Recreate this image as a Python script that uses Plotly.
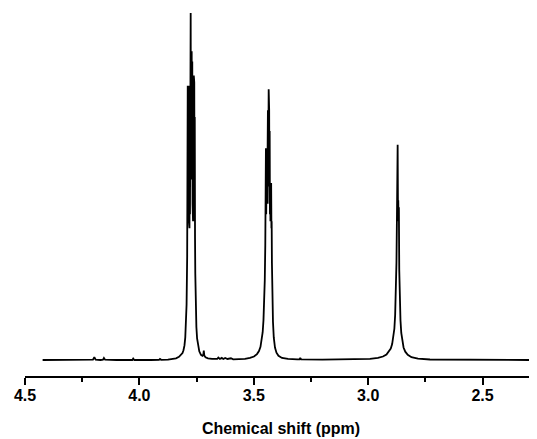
import plotly.graph_objects as go

# Chemical shift (ppm) and intensity (a.u., tallest line = 100)
ppm = [
    4.423, 4.300, 4.215, 4.203, 4.197, 4.191, 4.170, 4.159, 4.155, 4.150,
    4.100, 4.031, 4.027, 4.022, 3.950, 3.914, 3.910, 3.905, 3.875,
    # peak 1 (multiplet near 3.78)
    3.8575, 3.8400, 3.8269, 3.8182, 3.8116, 3.8073, 3.8029, 3.7994, 3.7963,
    3.7937, 3.7911,
    3.7898, 3.7887, 3.7876, 3.7865, 3.7854, 3.7843, 3.7832, 3.7821, 3.7810,
    3.7799, 3.7788, 3.7778, 3.7767, 3.7758, 3.7747, 3.7736, 3.7725, 3.7714,
    3.7703, 3.7688, 3.7677, 3.7666, 3.7655, 3.7644, 3.7633, 3.7622, 3.7611,
    3.7601, 3.7590, 3.7579, 3.7568,
    3.7557, 3.7535, 3.7509, 3.7478, 3.7439, 3.7382, 3.7308, 3.7242,
    3.7207, 3.7185, 3.7163, 3.7111, 3.7002, 3.6827,
    3.660, 3.655, 3.648, 3.640, 3.633, 3.625, 3.615, 3.600, 3.590, 3.560,
    # peak 2 (multiplet near 3.44)
    3.5385, 3.5166, 3.4991, 3.4860, 3.4773, 3.4707, 3.4655, 3.4611, 3.4576,
    3.4545, 3.4519, 3.4497,
    3.4480, 3.4469, 3.4458, 3.4447, 3.4436, 3.4425, 3.4414, 3.4403, 3.4392,
    3.4382, 3.4371, 3.4360, 3.4349, 3.4338, 3.4327, 3.4316, 3.4305, 3.4294,
    3.4283, 3.4272, 3.4261, 3.4250, 3.4240, 3.4229, 3.4218, 3.4207,
    3.4187, 3.4161, 3.4126, 3.4073, 3.4008, 3.3920, 3.3767, 3.3505,
    3.310, 3.300, 3.297, 3.293, 3.200, 3.050,
    # peak 3 (near 2.87)
    2.9921, 2.9572, 2.9353, 2.9200, 2.9091, 2.9012, 2.8951, 2.8899, 2.8855,
    2.8820, 2.8789, 2.8763, 2.8741, 2.8724, 2.8711, 2.8698, 2.8684, 2.8671,
    2.8658, 2.8641, 2.8619, 2.8588, 2.8553, 2.8510, 2.8453, 2.8378, 2.8269,
    2.8108, 2.7823, 2.7299, 2.600, 2.450, 2.2928,
]

intensity = [
    0.0, 0.0, 0.0, 0.1, 0.8, 0.1, 0.0, 0.1, 0.6, 0.1,
    0.0, 0.0, 0.4, 0.0, 0.0, 0.05, 0.3, 0.05, 0.1,
    0.2, 0.5, 0.9, 1.4, 2.0, 2.8, 4.2, 6.5, 10.0,
    16.0, 30.0,
    50.0, 79.0, 40.0, 78.0, 42.0, 79.0, 40.0, 70.0, 38.0,
    75.0, 42.0, 80.0, 50.0, 100.0, 55.0, 85.0, 52.0, 89.0,
    60.0, 86.0, 45.0, 80.0, 40.0, 82.0, 40.0, 82.0, 40.0,
    80.0, 42.0, 70.0, 35.0,
    25.0, 15.0, 9.5, 6.2, 4.0, 2.5, 1.5, 1.2,
    1.4, 2.7, 1.3, 0.8, 0.5, 0.3,
    0.3, 0.7, 0.3, 0.6, 0.3, 0.6, 0.3, 0.5, 0.2, 0.2,
    0.3, 0.6, 1.0, 1.7, 2.6, 3.8, 5.5, 8.0, 11.5,
    16.0, 23.0, 33.0,
    46.0, 61.0, 42.0, 61.0, 42.0, 61.0, 45.0, 72.0, 48.0,
    72.0, 50.0, 72.0, 78.0, 50.0, 72.0, 45.0, 66.0, 42.0,
    51.0, 40.0, 51.0, 40.0, 51.0, 38.0, 40.0, 28.0,
    18.0, 11.0, 6.5, 3.6, 2.1, 1.2, 0.6, 0.3,
    0.2, 0.2, 0.6, 0.2, 0.1, 0.1,
    0.3, 0.6, 1.0, 1.6, 2.4, 3.3, 4.6, 6.5, 9.0,
    13.0, 19.0, 28.0, 42.0, 56.0, 62.0, 44.0, 46.0, 40.0,
    44.0, 26.0, 17.0, 11.5, 7.8, 5.3, 3.6, 2.4, 1.5,
    0.8, 0.4, 0.15, 0.1, 0.05, 0.0,
]

tick_values = [4.5, 4.0, 3.5, 3.0, 2.5]
tick_labels = ["4.5", "4.0", "3.5", "3.0", "2.5"]

fig = go.Figure()
fig.add_trace(go.Scatter(
    x=ppm, y=intensity, mode="lines",
    line=dict(color="black", width=1.8),
    hoverinfo="skip", showlegend=False,
))

font_family = "Liberation Sans, Arial, sans-serif"

# the page body has an 8px margin, so the figure is 8px smaller than the window
fig.update_layout(
    width=529, height=431,
    margin=dict(l=17, r=0, t=0, b=63),
    paper_bgcolor="white", plot_bgcolor="white",
    showlegend=False,
    xaxis=dict(
        range=[4.5, 2.262],
        tickmode="array", tickvals=tick_values, ticktext=tick_labels,
        ticks="outside", ticklen=7, tickwidth=2, tickcolor="black",
        ticklabelstandoff=-3,
        showline=True, linewidth=2, linecolor="black",
        showgrid=False, zeroline=False,
        tickfont=dict(family=font_family, size=16, color="black", weight="bold"),
        minor=dict(dtick=0.25, tick0=2.5, ticks="outside", ticklen=4,
                   tickwidth=1.5, tickcolor="black", showgrid=False),
        title=dict(text="Chemical shift (ppm)", standoff=20,
                   font=dict(family=font_family, size=16, color="black", weight="bold")),
        automargin=False,
    ),
    yaxis=dict(range=[-4.61, 101.44], visible=False, showgrid=False, zeroline=False),
)

fig.write_html("out.html")
